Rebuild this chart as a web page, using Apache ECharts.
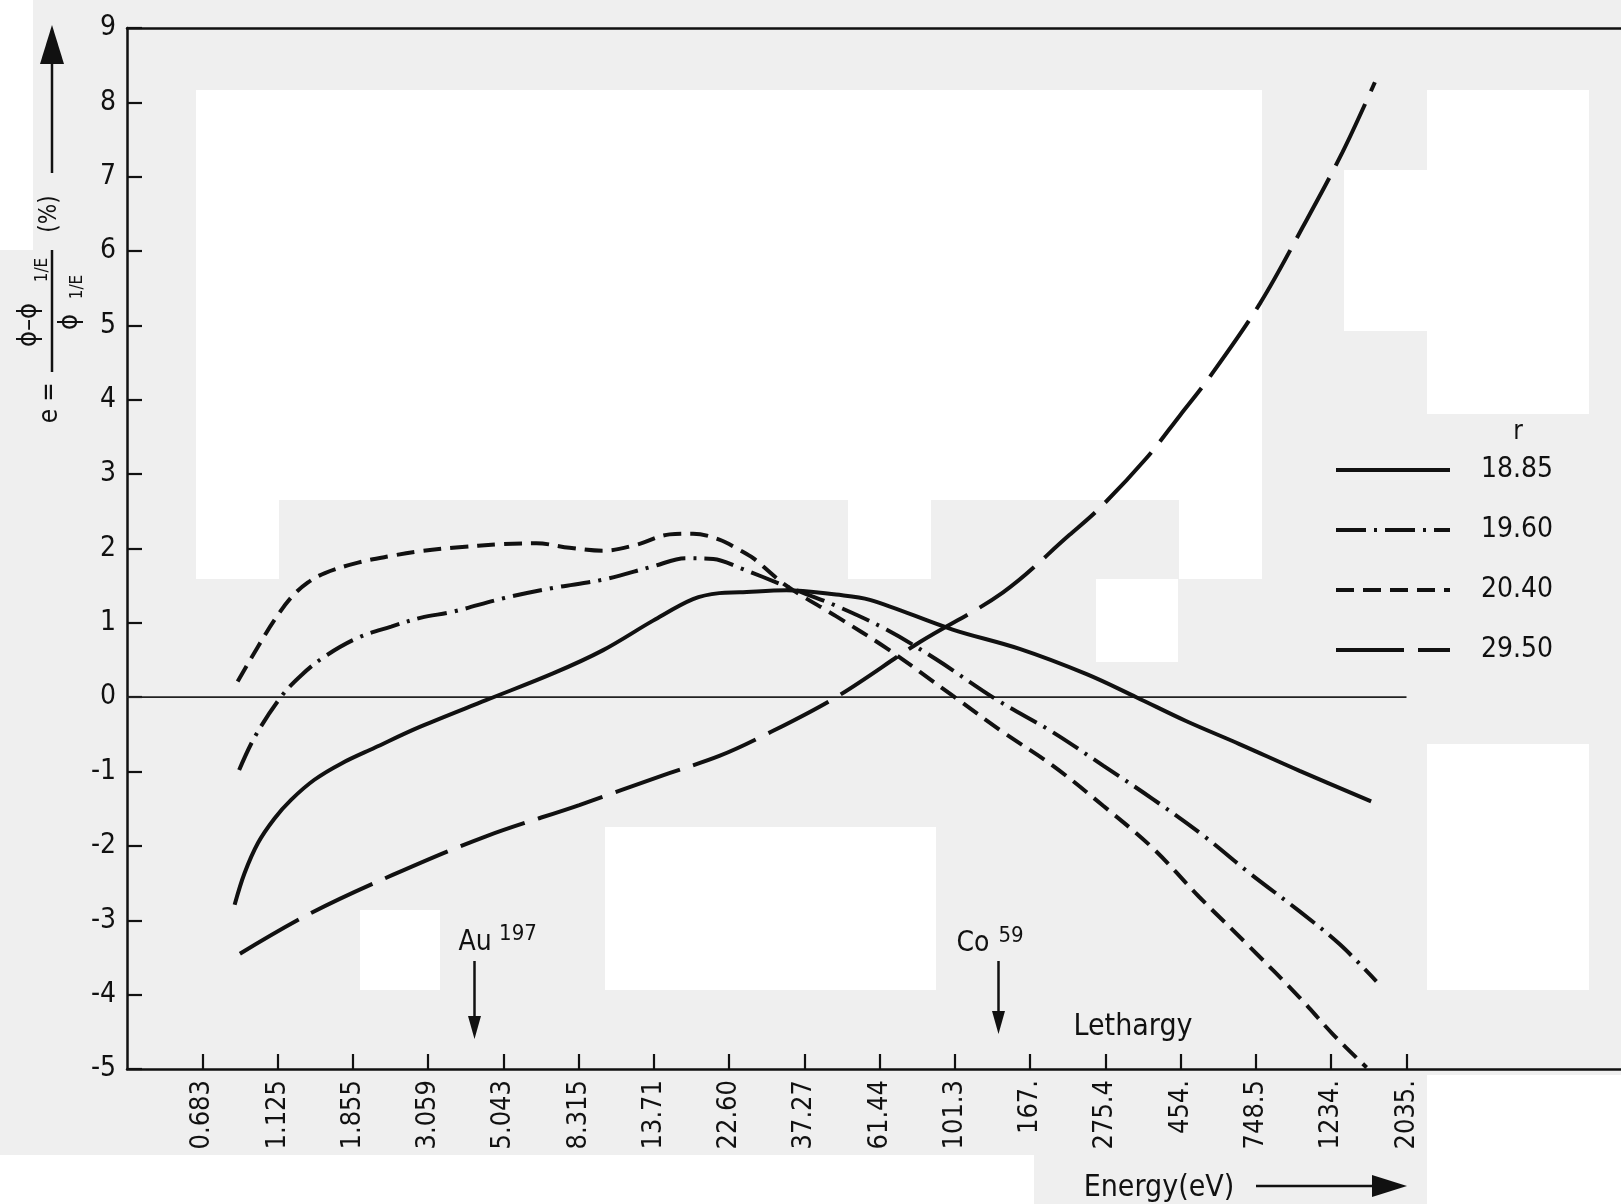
<!DOCTYPE html>
<html>
<head>
<meta charset="utf-8">
<script src="https://cdn.jsdelivr.net/npm/echarts@6/dist/echarts.min.js"></script>
<style>html,body{margin:0;padding:0;background:#efefef;}#c{width:1621px;height:1204px;}</style>
</head>
<body>
<div id="c"></div>
<script>
// Lethargy-group tick labels (energy, eV)
const energyLabels = ["0.683","1.125","1.855","3.059","5.043","8.315","13.71","22.60","37.27","61.44","101.3","167.","275.4","454.","748.5","1234.","2035."];
const tickIndex = [0,1,2,3,4,5,6,7,8,9,10,11,12,13,14,15,16];
const yTicks = [-5,-4,-3,-2,-1,0,1,2,3,4,5,6,7,8,9];

// Series: x = lethargy position (tick index units), y = e (%)
const r1885X = [0.43,0.56,0.74,0.96,1.18,1.49,1.85,2.29,2.89,3.77,4.66,5.32,5.99,6.52,6.87,7.14,7.76,8.42,8.87,9.97,10.86,11.75,12.41,13.07,13.78,14.58,15.53];
const r1885Y = [-2.79,-2.37,-1.96,-1.63,-1.38,-1.11,-0.89,-0.68,-0.40,-0.04,0.32,0.63,1.03,1.32,1.40,1.41,1.44,1.38,1.31,0.91,0.65,0.31,0.0,-0.32,-0.63,-0.99,-1.40];

const r1960X = [0.49,0.70,1.05,1.32,1.63,2.07,2.51,2.91,3.33,4.0,4.66,5.32,5.99,6.43,6.79,7.14,7.76,8.42,9.09,9.75,10.55,11.3,11.97,12.63,13.3,13.92,14.58,15.11,15.6];
const r1960Y = [-0.98,-0.53,0.01,0.30,0.55,0.80,0.95,1.07,1.15,1.33,1.47,1.58,1.76,1.87,1.86,1.74,1.49,1.23,0.91,0.51,-0.03,-0.47,-0.92,-1.37,-1.86,-2.37,-2.88,-3.32,-3.82];

const r2040X = [0.47,0.74,0.96,1.18,1.40,1.63,2.07,2.51,2.87,3.33,4.0,4.44,4.88,5.32,5.77,6.21,6.52,6.87,7.14,7.32,7.76,8.42,9.09,9.97,10.64,11.3,11.97,12.63,13.25,13.92,14.58,15.02,15.47];
const r2040Y = [0.21,0.68,1.04,1.34,1.54,1.67,1.81,1.90,1.96,2.01,2.06,2.07,2.01,1.97,2.05,2.19,2.20,2.12,1.98,1.87,1.50,1.09,0.66,0.02,-0.47,-0.92,-1.46,-2.03,-2.69,-3.36,-4.04,-4.53,-4.98];

const r2950X = [0.5,1.43,2.53,3.77,5.01,6.12,6.87,7.45,8.42,9.53,10.64,11.52,11.92,12.54,12.99,13.38,14.05,14.62,15.15,15.58];
const r2950Y = [-3.45,-2.91,-2.39,-1.87,-1.45,-1.05,-0.79,-0.52,0.0,0.74,1.41,2.18,2.54,3.21,3.79,4.30,5.29,6.32,7.33,8.27];

const zeroLineX = [-1, 16];
const zeroLineY = [0, 0];

const seriesNames = ["18.85","19.60","20.40","29.50"];

const FF = '"DejaVu Sans Condensed","DejaVu Sans",sans-serif';
const INK = '#111';

function zip(xs, ys){ return xs.map((x,i)=>[x, ys[i]]); }

const chart = echarts.init(document.getElementById('c'), null, {renderer:'canvas'});

function txt(x, y, text, size, opts){
  return Object.assign({type:'text', x:x, y:y, z:50,
    style:{text:text, fill:INK, font: size + 'px ' + FF, align:'center', verticalAlign:'middle'}}, opts||{});
}
function rtxt(x, y, text, size){
  return {type:'text', x:x, y:y, rotation:Math.PI/2, z:50,
    style:{text:text, fill:INK, font: size + 'px ' + FF, align:'center', verticalAlign:'middle'}};
}
function ln(x1,y1,x2,y2,w){
  return {type:'line', z:50, shape:{x1:x1,y1:y1,x2:x2,y2:y2}, style:{stroke:INK, lineWidth:w||2.5}};
}
function poly(pts){
  return {type:'polygon', z:50, shape:{points:pts}, style:{fill:INK}};
}
function wrect(x,y,w,h){
  return {type:'rect', z:-10, silent:true, shape:{x:x,y:y,width:w,height:h}, style:{fill:'#ffffff'}};
}

const bgRects = [
  wrect(196,90,1066,410), wrect(196,500,83,79), wrect(1427,90,162,324), wrect(1344,170,83,161),
  wrect(605,827,331,163), wrect(360,910,80,80), wrect(1427,744,162,246), wrect(1096,579,82,83),
  wrect(848,500,83,79), wrect(1179,500,83,79), wrect(0,1155,1034,49), wrect(1427,1075,194,129),
  wrect(0,0,33,250)
];

const decor = [
  // y-axis title (rotated)
  rtxt(50,416,'e',26), rtxt(50,392,'=',26),
  rtxt(29,325,'\u03D5\u2013\u03D5',27), rtxt(43,270,'1/E',17),
  ln(52,250,52,372,2.5),
  rtxt(70,322,'\u03D5',27), rtxt(78,287,'1/E',17),
  rtxt(50,214,'(%)',24),
  ln(52,173,52,62,2.5), poly([[52,25],[40,64],[64,64]]),
  // x-axis title
  txt(1159,1188,'Energy(eV)',30),
  ln(1256,1186,1378,1186,2.5), poly([[1407,1186],[1372,1175],[1372,1197]]),
  txt(1133,1027,'Lethargy',30),
  // annotations
  txt(475,943,'Au',28), txt(518,934,'197',22),
  ln(474.5,961,474.5,1020,2.5), poly([[474.5,1039],[468,1016],[481,1016]]),
  txt(973,944,'Co',28), txt(1011,936,'59',22),
  ln(998.5,961,998.5,1015,2.5), poly([[998.5,1034],[992,1011],[1005,1011]]),
  // legend heading
  txt(1518,432,'r',26)
];

function lineSeries(name, xs, ys, dash){
  return {
    name:name, type:'line', data:zip(xs,ys), smooth:0.35, symbol:'none', showSymbol:false,
    lineStyle:{color:INK, width:4, type:dash, cap:'butt'}, itemStyle:{color:INK},
    emphasis:{disabled:true}, z:5
  };
}

const option = {
  backgroundColor:'#efefef',
  animation:false,
  legend:{
    orient:'vertical', left:1329, top:448, itemWidth:114, itemHeight:14, itemGap:26,
    data:seriesNames, selectedMode:false,
    itemStyle:{opacity:0},
    lineStyle:{width:4},
    textStyle:{fontSize:28, fontFamily:FF, color:INK, lineHeight:34, padding:[0,0,0,26]}
  },
  grid:{left:127, right:0, top:28, bottom:135, containLabel:false},
  xAxis:[{
    type:'value', min:-1, max:18.85, position:'bottom',
    axisLine:{show:true, onZero:false, lineStyle:{color:INK, width:2.5}},
    axisTick:{show:true, inside:true, length:15, lineStyle:{color:INK, width:2.2}, customValues:tickIndex},
    axisLabel:{show:true, rotate:90, margin:11, fontSize:27, fontFamily:FF, color:INK,
      customValues:tickIndex, formatter:function(v){ return energyLabels[Math.round(v)] || ''; }},
    splitLine:{show:false}
  },{
    type:'value', min:-1, max:18.85, position:'top',
    axisLine:{show:true, onZero:false, lineStyle:{color:INK, width:2.5}},
    axisTick:{show:false}, axisLabel:{show:false}, splitLine:{show:false}
  }],
  yAxis:{
    type:'value', min:-5, max:9, interval:1,
    axisLine:{show:true, onZero:false, lineStyle:{color:INK, width:2.5}},
    axisTick:{show:true, inside:true, length:15, lineStyle:{color:INK, width:2.2}},
    axisLabel:{show:true, margin:11, fontSize:28, fontFamily:FF, color:INK,
      formatter:function(v){ return yTicks.indexOf(v) >= 0 ? String(v) : ''; }},
    splitLine:{show:false}
  },
  graphic:{elements: bgRects.concat(decor)},
  series:[
    lineSeries(seriesNames[0], r1885X, r1885Y, 'solid'),
    lineSeries(seriesNames[1], r1960X, r1960Y, [30,8,3,8]),
    lineSeries(seriesNames[2], r2040X, r2040Y, [18,9]),
    lineSeries(seriesNames[3], r2950X, r2950Y, [68,14]),
    {name:'zero', type:'line', data:zip(zeroLineX, zeroLineY), symbol:'none', silent:true,
     lineStyle:{color:'#222', width:1.8}, z:3, emphasis:{disabled:true}}
  ]
};
chart.setOption(option);
</script>
</body>
</html>
